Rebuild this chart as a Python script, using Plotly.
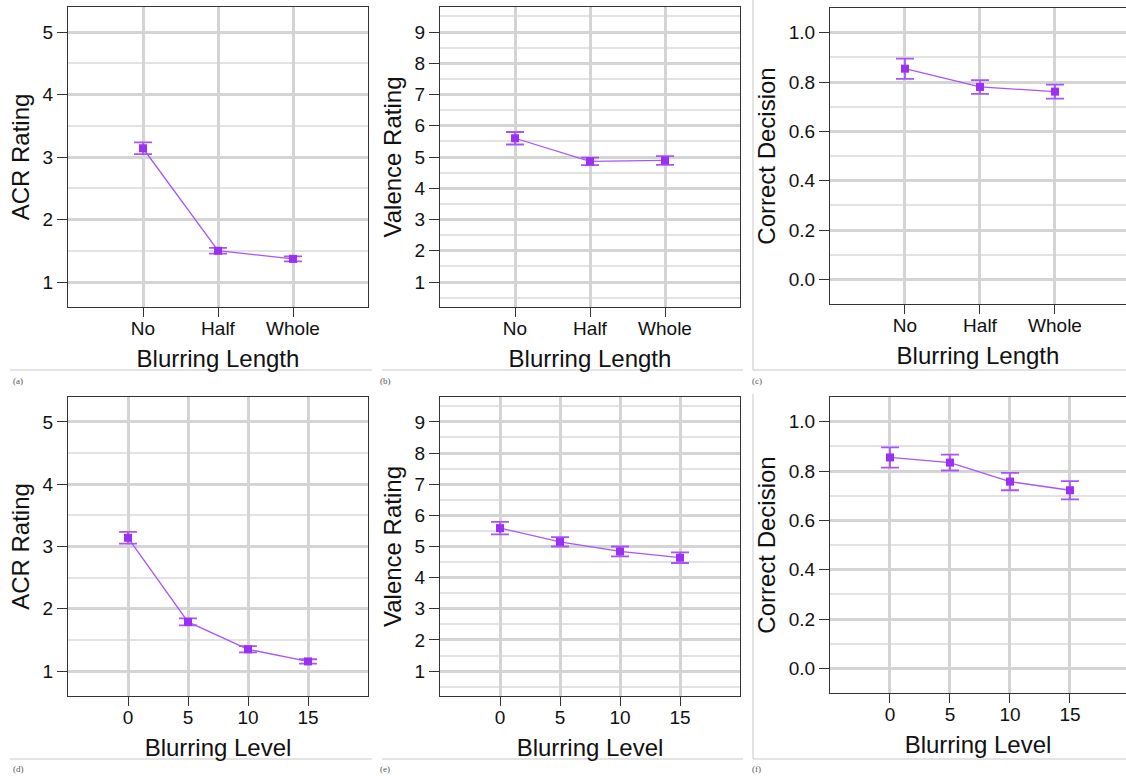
import plotly.graph_objects as go

# ---------------- data ----------------
length_cats = ["No", "Half", "Whole"]
level_vals = [0, 5, 10, 15]

acr_length = [3.14, 1.50, 1.37]
acr_length_err = [0.095, 0.045, 0.04]
val_length = [5.60, 4.86, 4.89]
val_length_err = [0.20, 0.12, 0.14]
cd_length = [0.854, 0.780, 0.761]
cd_length_err = [0.041, 0.028, 0.028]

acr_level = [3.14, 1.79, 1.35, 1.155]
acr_level_err = [0.095, 0.055, 0.05, 0.035]
val_level = [5.59, 5.15, 4.84, 4.64]
val_level_err = [0.20, 0.15, 0.16, 0.17]
cd_level = [0.855, 0.834, 0.757, 0.722]
cd_level_err = [0.041, 0.032, 0.035, 0.037]

panel_labels = ["(a)", "(b)", "(c)", "(d)", "(e)", "(f)"]

# ---------------- layout helpers ----------------
W, H = 1126, 776
MARK = "#9B30F2"
LINE = "#A855F7"
FONT = "Liberation Sans, Arial, sans-serif"

def xd(a, b):
    return [a / W, min(b / W, 1.0)]

def yd(top, bottom):
    return [1 - bottom / H, 1 - top / H]

# panel boxes (left, right, top, bottom) in px
boxes = [
    (68, 368, 7, 307),
    (440, 740, 7, 307),
    (830, 1126, 8, 304),
    (68, 368, 397, 696),
    (440, 740, 397, 696),
    (830, 1126, 397, 693),
]

cat_idx = list(range(len(length_cats)))
panels = [
    dict(x=cat_idx, y=acr_length, e=acr_length_err, yt="ACR Rating", xt="Blurring Length",
         yr=[0.6, 5.4], ydt=1, ymin=0.5, fmt="", xr=[-1, 3], tv=cat_idx, tt=length_cats),
    dict(x=cat_idx, y=val_length, e=val_length_err, yt="Valence Rating", xt="Blurring Length",
         yr=[0.2, 9.8], ydt=1, ymin=0.5, fmt="", xr=[-1, 3], tv=cat_idx, tt=length_cats),
    dict(x=cat_idx, y=cd_length, e=cd_length_err, yt="Correct Decision", xt="Blurring Length",
         yr=[-0.1, 1.1], ydt=0.2, ymin=0.1, fmt=".1f", xr=[-1, 2.947], tv=cat_idx, tt=length_cats),
    dict(x=level_vals, y=acr_level, e=acr_level_err, yt="ACR Rating", xt="Blurring Level",
         yr=[0.6, 5.4], ydt=1, ymin=0.5, fmt="", xr=[-5, 20], tv=level_vals, tt=[str(v) for v in level_vals]),
    dict(x=level_vals, y=val_level, e=val_level_err, yt="Valence Rating", xt="Blurring Level",
         yr=[0.2, 9.8], ydt=1, ymin=0.5, fmt="", xr=[-5, 20], tv=level_vals, tt=[str(v) for v in level_vals]),
    dict(x=level_vals, y=cd_level, e=cd_level_err, yt="Correct Decision", xt="Blurring Level",
         yr=[-0.1, 1.1], ydt=0.2, ymin=0.1, fmt=".1f", xr=[-5, 19.67], tv=level_vals, tt=[str(v) for v in level_vals]),
]

fig = go.Figure()
layout = {}
for i, (p, b) in enumerate(zip(panels, boxes)):
    n = "" if i == 0 else str(i + 1)
    fig.add_trace(go.Scatter(
        x=p["x"], y=p["y"], mode="lines+markers",
        xaxis="x" + n, yaxis="y" + n,
        line=dict(color=LINE, width=1.3),
        marker=dict(symbol="square", size=8, color=MARK),
        error_y=dict(type="data", array=p["e"], color=LINE, thickness=1.8, width=9),
        showlegend=False,
    ))
    l, r, t, bt = b
    layout["xaxis" + n] = dict(
        domain=xd(l, r), anchor="y" + n, range=p["xr"],
        tickvals=p["tv"], ticktext=p["tt"],
        showgrid=True, gridcolor="#d4d4d4", gridwidth=2.5,
        showline=True, linecolor="#333333", linewidth=1, mirror=True,
        ticks="outside", ticklen=9, tickcolor="#333333",
        ticklabelstandoff=-5,
        tickfont=dict(size=19, color="#111111", family=FONT),
        title=dict(text=p["xt"], font=dict(size=24, color="#111111", family=FONT), standoff=12),
        zeroline=False, fixedrange=True,
    )
    layout["yaxis" + n] = dict(
        domain=yd(t, bt), anchor="x" + n, range=p["yr"],
        dtick=p["ydt"], tick0=0, tickformat=p["fmt"],
        showgrid=True, gridcolor="#d4d4d4", gridwidth=2.5,
        minor=dict(dtick=p["ymin"], tick0=0, showgrid=True, gridcolor="#e2e2e2", gridwidth=1.5),
        showline=True, linecolor="#333333", linewidth=1, mirror=True,
        ticks="outside", ticklen=10, tickcolor="#333333",
        tickfont=dict(size=19, color="#111111", family=FONT),
        title=dict(text=p["yt"], font=dict(size=24, color="#111111", family=FONT), standoff=6),
        zeroline=False, fixedrange=True,
    )

# separator lines and panel labels
shapes = []
sep_col = "#c8c8c8"
for y in (370, 759):
    for (a, b) in ((10, 372), (382, 743), (753, 1126)):
        shapes.append(dict(type="line", xref="paper", yref="paper",
                           x0=a / W, x1=b / W, y0=1 - y / H, y1=1 - y / H,
                           line=dict(color=sep_col, width=1)))
for (a, b) in ((0, 370), (394, 759)):
    shapes.append(dict(type="line", xref="paper", yref="paper",
                       x0=753 / W, x1=753 / W, y0=1 - a / H, y1=1 - b / H,
                       line=dict(color=sep_col, width=1)))

annotations = []
label_pos = [(11, 381), (378, 381), (750, 381), (11, 769), (378, 769), (750, 769)]
for txt, (x, y) in zip(panel_labels, label_pos):
    annotations.append(dict(text=txt, xref="paper", yref="paper", x=x / W, y=1 - y / H,
                            xanchor="left", yanchor="middle", showarrow=False,
                            font=dict(size=9, color="#555555", family="Liberation Serif, serif")))

fig.update_layout(
    width=W, height=H, margin=dict(l=0, r=0, t=0, b=0),
    paper_bgcolor="white", plot_bgcolor="white",
    shapes=shapes, annotations=annotations, **layout,
)

fig.write_html("out.html")
